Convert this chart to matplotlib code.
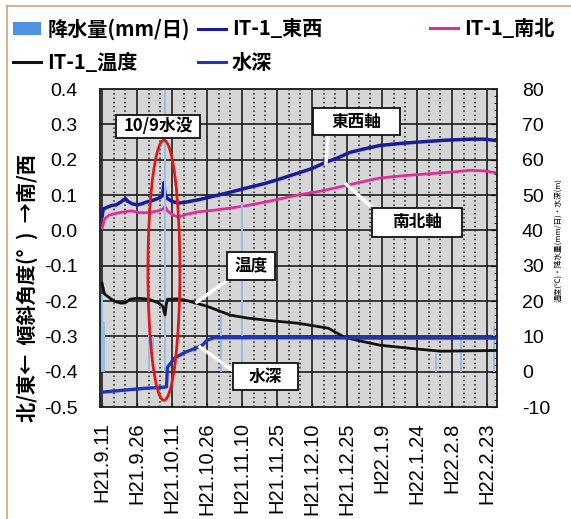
import datetime as dt
import matplotlib
matplotlib.use("Agg")
import matplotlib.pyplot as plt
import matplotlib.dates as mdates
from matplotlib.patches import Ellipse, Patch, Rectangle
from matplotlib.lines import Line2D
from matplotlib.ticker import FixedLocator, MultipleLocator

plt.rcParams['font.family'] = ['Liberation Sans', 'Noto Sans CJK JP', 'DejaVu Sans']
CJK = ['Noto Sans CJK JP', 'DejaVu Sans']

# ---------------- data (days since 2009-09-11 = H21.9.11) ----------------
START = dt.datetime(2009, 9, 11)

tick_days = [0, 15, 30, 45, 60, 75, 90, 105, 120, 135, 150, 165]
tick_labels = ['H21.9.11', 'H21.9.26', 'H21.10.11', 'H21.10.26', 'H21.11.10',
               'H21.11.25', 'H21.12.10', 'H21.12.25', 'H22.1.9', 'H22.1.24',
               'H22.2.8', 'H22.2.23']

# tilt, east-west axis (deg, left axis)
ew_days = [0, 0.5, 2, 4, 6, 8, 10, 11, 13, 15, 17, 19, 21, 23, 25, 26, 26.5, 27, 28,
           30, 32.6, 36, 41, 48, 55, 62, 70, 77, 84, 90, 96, 101, 106, 112, 119,
           128, 136, 147, 158, 164, 169]
ew_vals = [0.04, 0.06, 0.065, 0.07, 0.072, 0.08, 0.09, 0.082, 0.075, 0.072, 0.075,
           0.08, 0.083, 0.088, 0.093, 0.1, 0.135, 0.1, 0.09, 0.082, 0.077, 0.08,
           0.086, 0.097, 0.108, 0.12, 0.133, 0.147, 0.162, 0.175, 0.193, 0.205,
           0.22, 0.23, 0.24, 0.246, 0.25, 0.255, 0.258, 0.258, 0.254]

# tilt, south-north axis (deg, left axis)
ns_days = [0, 1, 1.5, 3, 6, 9, 12.6, 16, 20, 24, 26, 27, 28, 30, 32.6, 36, 41, 48, 55,
           62, 70, 77, 84, 93, 102, 110, 119, 130, 140, 150, 158, 164, 169]
ns_vals = [0.006, 0.03, 0.035, 0.043, 0.048, 0.052, 0.055, 0.05, 0.05, 0.055, 0.06,
           0.068, 0.055, 0.045, 0.037, 0.045, 0.052, 0.057, 0.063, 0.07, 0.08,
           0.09, 0.1, 0.11, 0.123, 0.135, 0.148, 0.155, 0.16, 0.165, 0.17, 0.168,
           0.163]

# temperature (deg C, right axis)
tmp_days = [0, 1, 3, 5, 8, 10, 12, 15, 20, 24, 26, 27, 27.5, 28, 33, 37, 45, 55,
            62, 70, 84, 97, 104, 112, 119, 132, 145, 158, 169]
tmp_vals = [25, 22, 21, 20, 19.4, 19.5, 20.5, 20.8, 20.5, 19.5, 18.5, 16, 19, 20.5,
            20.6, 20, 18.5, 16, 15.2, 14.6, 13.7, 12.3, 9.7, 8.5, 7.5, 6.6, 5.8,
            5.9, 6.0]

# water depth (m, right axis)
wd_days = [0, 10, 18.5, 26.5, 27.6, 28, 31, 35.6, 40, 43, 45, 48, 80, 120, 169]
wd_vals = [-5.8, -5.2, -4.7, -4.4, -4.3, 1.2, 3.8, 5.5, 6.6, 7.5, 8.9, 9.6, 9.6,
           9.5, 9.5]

# daily precipitation (mm/day, right axis)
rain_days = [0, 1, 20, 22, 27, 51, 60, 143, 154, 168]
rain_vals = [22, 14, 15, 10, 90, 16, 48, 5, 10, 13]

# ---------------- helpers ----------------
def to_dates(days):
    return [START + dt.timedelta(days=d) for d in days]

C_EW = '#1a1a9c'
C_NS = '#dd2f98'
C_TMP = '#111111'
C_WD = '#2233bb'
C_RAIN = '#95bdeb'
C_RAIN_LEG = '#4d93e0'

fig = plt.figure(figsize=(5.71, 5.19), dpi=100)
fig.patch.set_facecolor('white')

W, H = 571.0, 519.0
ax = fig.add_axes([100 / W, 1 - 407 / H, 397 / W, 318 / H])
ax.set_facecolor('#d6d6d6')
ax2 = ax.twinx()

ax.set_ylim(-0.5, 0.4)
ax2.set_ylim(-10, 80)
ax.set_xlim(START + dt.timedelta(days=-0.9), START + dt.timedelta(days=169.3))

# grid
major_x = to_dates(tick_days)
minor_days = [d for d in range(0, 170, 5) if d % 15 != 0]
for d in to_dates(minor_days):
    ax.axvline(d, color='#222222', lw=1.1, ls=(0, (1.0, 1.8)), zorder=1)
for d in major_x:
    ax.axvline(d, color='#1e1e1e', lw=1.2, zorder=1)
for yv in [-0.4, -0.3, -0.2, -0.1, 0.0, 0.1, 0.2, 0.3]:
    ax.axhline(yv, color='#1e1e1e', lw=1.2, zorder=1)

# tilt lines
ax.plot(to_dates(ns_days), ns_vals, color=C_NS, lw=2.0, zorder=3)
ax.plot(to_dates(ew_days), ew_vals, color=C_EW, lw=2.5, zorder=4)

# rain bars, temperature, water depth
ax2.bar(to_dates(rain_days), rain_vals, width=0.9, bottom=0, color=C_RAIN,
        zorder=1)
ax2.plot(to_dates(tmp_days), tmp_vals, color=C_TMP, lw=2.0, zorder=3)
ax2.plot(to_dates(wd_days), wd_vals, color=C_WD, lw=2.4, zorder=3)

# ticks
ax.xaxis.set_major_locator(FixedLocator(mdates.date2num(major_x)))
ax.set_xticklabels(tick_labels, rotation=90, fontsize=14.5)
ax.tick_params(axis='x', length=3, direction='in', pad=11)
ax.set_yticks([0.4, 0.3, 0.2, 0.1, 0.0, -0.1, -0.2, -0.3, -0.4, -0.5])
ax.set_yticklabels(['0.4', '0.3', '0.2', '0.1', '0.0', '-0.1', '-0.2', '-0.3',
                    '-0.4', '-0.5'], fontsize=14)
ax.tick_params(axis='y', length=0, pad=16)
ax2.set_yticks([80, 70, 60, 50, 40, 30, 20, 10, 0, -10])
ax2.set_yticklabels(['80', '70', '60', '50', '40', '30', '20', '10', '0', '-10'],
                    fontsize=14)
ax2.yaxis.set_minor_locator(MultipleLocator(2))
ax2.tick_params(axis='y', which='major', length=4, direction='in', pad=18)
ax2.tick_params(axis='y', which='minor', length=2, direction='in')
for sp in list(ax.spines.values()) + list(ax2.spines.values()):
    sp.set_color('#222222')
    sp.set_linewidth(1.1)

# ellipse around 10/9 inundation
ax2.add_patch(Ellipse((mdates.date2num(START + dt.timedelta(days=26.5)), 28.7),
                      width=13.7, height=73.6, fill=False, edgecolor='#dd1a1a',
                      lw=2.0, zorder=6, clip_on=False))

# annotation boxes with white leader lines (pixel geometry of the layout)
def label(text, box_px, tip_px=None, base_px=None):
    x0, y0, x1, y1 = box_px
    if tip_px is not None:
        fig.add_artist(Line2D([base_px[0] / W, tip_px[0] / W],
                              [1 - base_px[1] / H, 1 - tip_px[1] / H],
                              color='white', lw=2.5, zorder=7))
    fig.add_artist(Rectangle((x0 / W, 1 - y1 / H), (x1 - x0) / W, (y1 - y0) / H,
                             facecolor='white', edgecolor='#111111', lw=1.3,
                             zorder=8, transform=fig.transFigure))
    fig.text((x0 + x1) / 2 / W, 1 - (y0 + y1) / 2 / H, text, ha='center',
             va='center', fontsize=12, fontweight='bold', family=CJK, zorder=9)

label('10/9水没', (116, 115, 200, 138))
label('東西軸', (313, 108, 400, 135), tip_px=(326, 163), base_px=(328, 135))
label('南北軸', (372, 208, 462, 237), tip_px=(346, 184), base_px=(375, 210))
label('温度', (227, 252, 275, 280), tip_px=(197, 302), base_px=(229, 279))
label('水深', (233, 363, 298, 390), tip_px=(200, 347), base_px=(235, 372))

# axis titles
fig.text(27 / W, 1 - 288 / H, '北/東←  傾斜角度(°  )  →南/西', rotation=90,
         ha='center', va='center', fontsize=14.5, fontweight='bold', family=CJK)
fig.text(558 / W, 1 - 240 / H, '温度(℃)・降水量(mm/日)・水深(m)', rotation=90,
         ha='center', va='center', fontsize=5.5, family=CJK)

# legend
h_rain = Patch(facecolor=C_RAIN_LEG, edgecolor='none')
h_ew = Line2D([], [], color=C_EW, lw=2.2)
h_ns = Line2D([], [], color=C_NS, lw=2.2)
h_tmp = Line2D([], [], color=C_TMP, lw=2.2)
h_wd = Line2D([], [], color=C_WD, lw=2.2)
lprop = dict(family=CJK, size=14.5, weight='bold')
fig.legend([h_rain, h_tmp, h_ew, h_wd],
           ['降水量(mm/日)', 'IT-1_温度', 'IT-1_東西', '水深'],
           ncol=2, loc='upper left', bbox_to_anchor=(13 / W, 1 - 18 / H),
           frameon=False, prop=lprop, handlelength=1.4, handleheight=0.6,
           handletextpad=0.3, columnspacing=0.4, labelspacing=0.62,
           borderaxespad=0, borderpad=0)
fig.legend([h_ns], ['IT-1_南北'], loc='upper left',
           bbox_to_anchor=(430 / W, 1 - 18 / H), frameon=False, prop=lprop,
           handlelength=1.4, handletextpad=0.3, borderaxespad=0, borderpad=0)

# scanned-page frame
fig.add_artist(Line2D([7 / W, 7 / W], [0.0, 1 - 6 / H], color='#c9a77c', lw=1.2))
fig.add_artist(Line2D([7 / W, 1.0], [1 - 6 / H, 1 - 6 / H], color='#c9a77c', lw=1.2))

fig.savefig('out.png', dpi=100)
